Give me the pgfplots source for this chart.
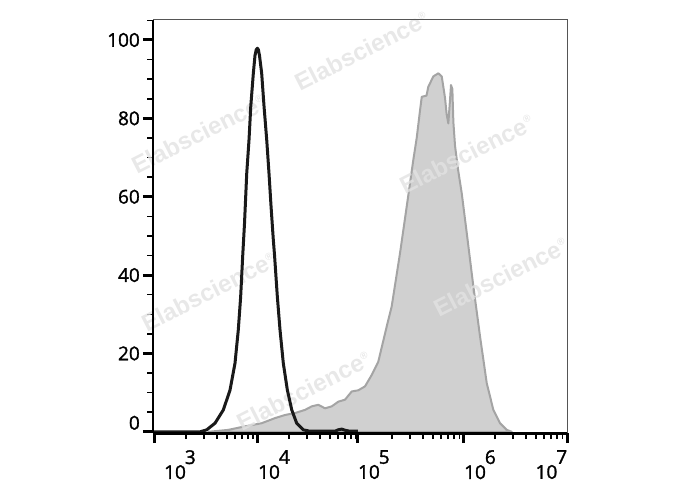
\documentclass[border=0pt]{standalone}
\usepackage{fontspec}
\setmainfont{Open Sans}
\newfontfamily\ticfont{Open Sans}[FakeBold=1.5]
\newfontfamily\wmfont{Liberation Sans Bold}
\usepackage{pgfplots}
\pgfplotsset{compat=1.18}
\definecolor{grayfill}{HTML}{D0D0D0}
\definecolor{grayedge}{HTML}{A4A4A4}
\definecolor{wm}{HTML}{E2E2E2}
\definecolor{frame}{HTML}{555555}
\newcommand{\wmark}{Elabscience\textsuperscript{\fontsize{10}{10}\selectfont\textregistered}}
\newcommand{\dec}[1]{10\kern-1pt\raisebox{15pt}{#1}}
\begin{document}
\begin{tikzpicture}[x=1pt,y=1pt]
\useasboundingbox (0,0) rectangle (688,490);
\begin{axis}[
  at={(153pt,57pt)}, anchor=south west,
  scale only axis, width=414pt, height=413pt,
  xmin=2.981, xmax=7, ymin=-0.3, ymax=105.1,
  clip=false,
  axis line style={draw=none},
  tick pos=left, tick align=outside,
  major tick length=10pt, minor tick length=6pt,
  major tick style={line width=3pt, black},
  minor tick style={line width=1.5pt, black},
  xtick={3,4,4.97,6,7},
  xticklabels={{\hspace*{9pt}\dec{3}},{\dec{4}},{\dec{5}},{\dec{6}},{\llap{\dec{7}}}},
  minor xtick={3.301,3.477,3.602,3.699,3.778,3.845,3.903,3.954,
               4.301,4.477,4.602,4.699,4.778,4.845,4.903,4.954,
               5.301,5.477,5.602,5.699,5.778,5.845,5.903,5.954,
               6.301,6.477,6.602,6.699,6.778,6.845,6.903,6.954},
  ytick={0,20,40,60,80,100},
  yticklabels={{\raisebox{9pt}[\height][\depth]{0}},20,40,60,80,100},
  minor ytick={5,10,15,25,30,35,45,50,55,65,70,75,85,90,95,105},
  tick label style={font=\ticfont\fontsize{19}{22}\selectfont},
  xticklabel style={anchor=north west, xshift=-2pt, yshift=-5pt, inner sep=2pt},
  yticklabel style={anchor=east, inner sep=3pt},
]
% stained sample (grey filled)
\addplot[fill=grayfill, draw=grayedge, line width=2pt, line join=round] coordinates {
(3.518,0) (3.712,0.5) (3.874,1.4) (4.036,2.2) (4.165,3.5) (4.263,4.3)
(4.360,4.8) (4.457,5.6) (4.522,6.5) (4.586,6.9) (4.651,6.0) (4.716,6.5)
(4.780,7.7) (4.845,8.2) (4.910,10.3) (4.974,10.6) (5.039,11.6) (5.104,14.5)
(5.168,17.9) (5.250,26.9) (5.298,32) (5.379,45.6) (5.444,57.5) (5.508,69.4)
(5.541,75) (5.573,82) (5.590,85.5) (5.636,85.8) (5.653,88) (5.702,90.7)
(5.751,91.5) (5.784,90.7) (5.816,85.2) (5.832,81) (5.848,78.7) (5.865,85)
(5.874,88.5) (5.887,87.5) (5.897,79) (5.913,73) (5.942,67) (5.978,60.9)
(6.027,50.7) (6.091,37.1) (6.156,24.3) (6.221,12.4) (6.285,5.6) (6.350,2.2)
(6.415,0.5) (6.464,0)
} \closedcycle;
% watermarks
\foreach \px/\py in {5.010/97.2, 3.428/76.0, 6.030/70.9, 3.525/35.7, 6.360/39.5, 4.447/10.5}{
  \edef\temp{\noexpand\node[rotate=27, text=wm, text opacity=0.8, font=\noexpand\wmfont\noexpand\fontsize{24}{26}\noexpand\selectfont] at (axis cs:\px,\py) {\noexpand\wmark};}
  \temp
}
% control (black line)
\addplot[draw=black!90, line width=3pt, line join=round] coordinates {
(2.981,0) (3.437,0) (3.502,0.5) (3.583,2.2) (3.664,5.6) (3.729,10.7)
(3.777,17.5) (3.809,26) (3.832,34.5) (3.852,45) (3.869,53) (3.891,66)
(3.913,74.5) (3.930,83) (3.955,91.5) (3.971,96) (3.983,97.5) (3.994,97.9)
(4.004,97.5) (4.015,96) (4.036,91.5) (4.059,83) (4.085,74.5) (4.107,66)
(4.127,57.5) (4.149,49) (4.161,45) (4.188,34.5) (4.214,26) (4.246,17.5)
(4.285,10.7) (4.328,5.6) (4.376,2.2) (4.440,0.5) (4.505,0.15) (4.748,0.15)
(4.777,0.5) (4.813,0.7) (4.845,0.4) (4.894,0.15) (4.971,0.15)
};
% frame
\draw[frame, line width=1pt] (rel axis cs:0,1) -- (rel axis cs:1,1) -- (rel axis cs:1,0);
\draw[black, line width=1.5pt] (rel axis cs:0,0) -- (rel axis cs:0,1);
\draw[black, line width=3pt] (rel axis cs:0,0) -- (rel axis cs:1,0);
\end{axis}
\end{tikzpicture}
\end{document}
